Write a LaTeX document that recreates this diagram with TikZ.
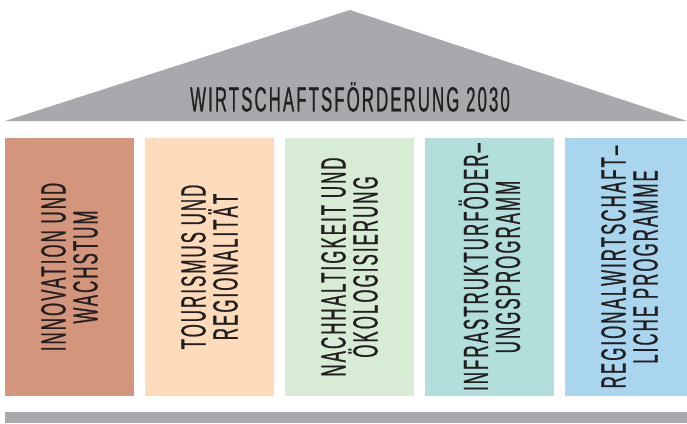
\documentclass[tikz,border=0pt]{standalone}
\usepackage{fontspec}
\setmainfont{Liberation Sans}
\newfontfamily\condfont[FakeStretch=0.48,LetterSpace=6,FakeBold=0.6]{Liberation Sans}
\definecolor{roofgray}{HTML}{A8A9AD}
\definecolor{textdark}{HTML}{231F20}
\definecolor{colA}{HTML}{D3957C}
\definecolor{colB}{HTML}{FDDBBB}
\definecolor{colC}{HTML}{D8EBD5}
\definecolor{colD}{HTML}{B2DFDB}
\definecolor{colE}{HTML}{A9D5EE}
\tikzset{
  pillar/.style={rotate=90, minimum width=258pt, minimum height=129pt,
    inner sep=0pt, align=center, text=textdark,
    font=\condfont\fontsize{35}{32}\selectfont}
}
\begin{document}
\begin{tikzpicture}[x=1pt,y=-1pt]
      \useasboundingbox (0,0) rectangle (687,423);
      % roof and base
      \fill[roofgray] (5,121) coordinate (rl) -- (350,10) coordinate (top)
        -- (687,121) coordinate (rr) -- cycle;
      \node[text=textdark, font=\condfont\fontsize{35}{32}\selectfont]
        (title) at (350,97) {WIRTSCHAFTSFÖRDERUNG 2030};
      \fill[roofgray] (5,412) rectangle (687,423);
      % pillars
      \node[pillar, fill=colA] (p1) at (69.5,267) {INNOVATION UND\\WACHSTUM};
      \node[pillar, fill=colB] (p2) at (209.5,267) {TOURISMUS UND\\REGIONALITÄT};
      \node[pillar, fill=colC] (p3) at (349.5,267) {NACHHALTIGKEIT UND\\ÖKOLOGISIERUNG};
      \node[pillar, fill=colD] (p4) at (489.5,267) {INFRASTRUKTURFÖDER–\\UNGSPROGRAMM};
      \node[pillar, fill=colE] (p5) at (629.5,267) {REGIONALWIRTSCHAFT–\\LICHE PROGRAMME};
    \end{tikzpicture}
\end{document}
